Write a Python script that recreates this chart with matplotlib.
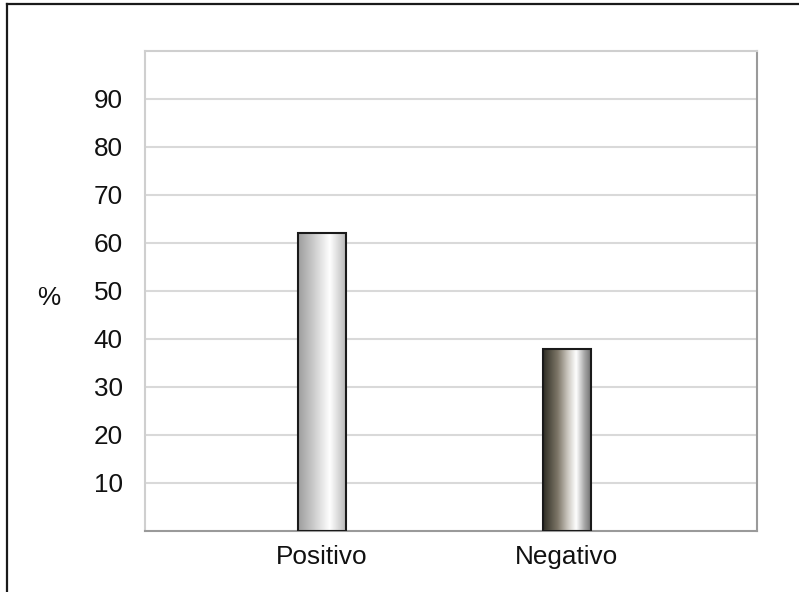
import matplotlib.pyplot as plt
import numpy as np
from matplotlib.colors import LinearSegmentedColormap
from matplotlib.lines import Line2D

# Datos
categorias = ['Positivo', 'Negativo']
valores = [62, 38]
ticks_y = [10, 20, 30, 40, 50, 60, 70, 80, 90]

# Degradados de cada barra (izquierda -> derecha)
grad_pos = [(0.0, '#9c9c9c'), (0.35, '#d0d0d0'), (0.65, '#ffffff'), (1.0, '#b4b4b4')]
grad_neg = [(0.0, '#2f2e24'), (0.3, '#7d7668'), (0.5, '#c9c5bd'), (0.68, '#ffffff'),
            (0.85, '#a6a6a6'), (1.0, '#6a6a6a')]
gradientes = [grad_pos, grad_neg]

plt.rcParams['font.family'] = ['Liberation Sans', 'DejaVu Sans']

fig = plt.figure(figsize=(7.99, 5.92), dpi=100)
fig.patch.set_facecolor('white')
ax = fig.add_axes([145 / 799, 1 - 531 / 592, 612 / 799, 480 / 592])

x = np.arange(len(categorias))
ancho = 0.196
barras = ax.bar(x, valores, width=ancho, facecolor='none', edgecolor='#1a1a1a',
                linewidth=1.5, zorder=3)

# Relleno con degradado recortado a cada barra
for barra, grad in zip(barras, gradientes):
    cmap = LinearSegmentedColormap.from_list('g', grad)
    x0 = barra.get_x()
    w = barra.get_width()
    h = barra.get_height()
    img = ax.imshow(np.linspace(0, 1, 256).reshape(1, -1), cmap=cmap, aspect='auto',
                    extent=[x0, x0 + w, 0, h], zorder=2, interpolation='bicubic')
    img.set_clip_path(barra)

ax.set_xlim(-0.722, 1.776)
ax.set_ylim(0, 100)
ax.set_xticks(x)
ax.set_xticklabels(categorias, fontsize=18.8, color='#111111')
ax.set_yticks(ticks_y)
ax.set_yticklabels([str(t) for t in ticks_y], fontsize=18.8, color='#111111')
ax.tick_params(axis='y', length=0, pad=16)
ax.tick_params(axis='x', length=0, pad=10)

ax.grid(axis='y', color='#d9d9d9', linewidth=1.5, zorder=0)
ax.set_axisbelow(True)
for lado in ['left', 'top']:
    ax.spines[lado].set_color('#cfcfcf')
    ax.spines[lado].set_linewidth(1.5)
for lado in ['right', 'bottom']:
    ax.spines[lado].set_color('#9a9a9a')
    ax.spines[lado].set_linewidth(1.5)

ax.set_ylabel('%', fontsize=18.8, rotation=0, va='center', ha='center', color='#111111')
ax.yaxis.set_label_coords(-0.158, 0.486)

# Marco exterior (solo izquierda y arriba)
fig.add_artist(Line2D([7 / 799, 7 / 799], [0, 1 - 4 / 592], color='#1a1a1a', linewidth=1.6))
fig.add_artist(Line2D([7 / 799, 1], [1 - 4 / 592, 1 - 4 / 592], color='#1a1a1a', linewidth=1.6))

fig.savefig('out.png', dpi=100)
